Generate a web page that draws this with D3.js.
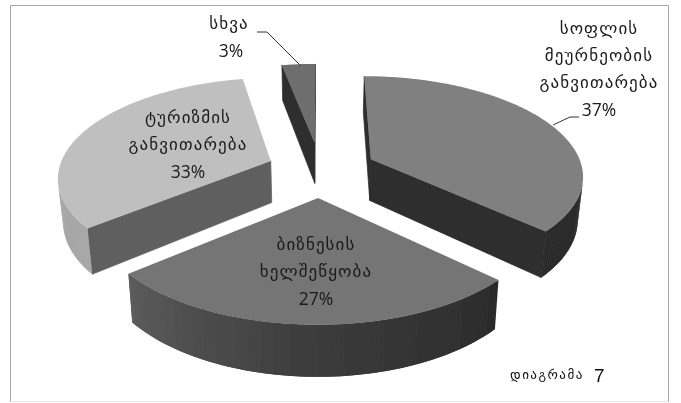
<!DOCTYPE html>
<html><head><meta charset="utf-8">
<script src="https://cdn.jsdelivr.net/npm/d3@7"></script>
<style>html,body{margin:0;padding:0;background:#fff}svg{display:block}</style>
</head><body>
<svg id="c" width="681" height="403"></svg>
<script>
const categories = ["სოფლის მეურნეობის განვითარება","ბიზნესის ხელშეწყობა","ტურიზმის განვითარება","სხვა"];
const values = [37,27,33,3];
const percentLabels = ["37%","27%","33%","3%"];
const labelLines = [["სოფლის","მეურნეობის","განვითარება"],["ბიზნესის","ხელშეწყობა"],["ტურიზმის","განვითარება"],["სხვა"]];
const captionWord = "დიაგრამა";
const captionNumber = "7";

// styling and layout, separate from the data
const explode = [0.265,0.28,0.25,0.28];
const topFill = ["#808080","#747474","#bfbfbf","#6e6e6e"];
const cutFill = ["#2d2d2d","#2d2d2d","#5f5f5f","#2d2d2d"];
const wallStops = [
  {d:[0,60,133],r:["#2d2d2d","#2d2d2d","#2d2d2d"]},
  {d:[133,180,230.4],r:["#2c2c2c","#3c3c3c","#5d5d5d"]},
  {d:[230.4,255,300],r:["#a8a8a8","#a6a6a6","#b4b4b4"]},
  {d:[349,360],r:["#2d2d2d","#2d2d2d"]}
];
const labelAt = [[599,29,27,0],[316,245,27,0],[188,118,27,0],[229,24,27,2]];
const drawOrder = [3,2,0,1];
const cx=320, cy=169.3, persp=0.15, D=42;
const xs = d3.scaleLinear().domain([-1,1]).range([cx-212,cx+212]);
const ys = d3.scaleLinear().domain([-1,1]).range([cy-98.2,cy+98.2]);
function project(X,Y,Z){
  const s=1/(1-persp*Y);
  return [cx+(xs(X)-cx)*s*(1-0.02*Z), cy+(ys(Y)-cy)*s+D*Z*s];
}
const svg=d3.select("#c");
const defs=svg.append("defs");
defs.append("filter").attr("id","soft").append("feGaussianBlur").attr("stdDeviation",0.45);
const root=svg.append("g").attr("filter","url(#soft)");
const line=d3.line();
const rad=d=>d*Math.PI/180;

const arcs=d3.pie().sort(null).value(d=>d)(values);
const face=(g,pts,fill)=>{
  if(d3.polygonArea(pts)<=0) return;
  g.append("path").attr("d",line(pts)+"Z").attr("fill",fill).attr("stroke",fill).attr("stroke-width",0.7);
};
drawOrder.forEach(i=>{
  const a=arcs[i], mid=(a.startAngle+a.endAngle)/2;
  const ox=Math.sin(mid)*explode[i], oy=-Math.cos(mid)*explode[i];
  const rim=(t,z)=>project(ox+Math.sin(t),oy-Math.cos(t),z);
  const apex=z=>project(ox,oy,z);
  const g=root.append("g");
  const wc=d3.scaleLinear().domain(wallStops[i].d).range(wallStops[i].r).clamp(true);
  const n=Math.ceil((a.endAngle-a.startAngle)/rad(1));
  const ts=d3.range(n+1).map(k=>a.startAngle+(a.endAngle-a.startAngle)*k/n);
  face(g,[apex(0),rim(a.startAngle,0),rim(a.startAngle,1),apex(1)],cutFill[i]);
  face(g,[rim(a.endAngle,0),apex(0),apex(1),rim(a.endAngle,1)],cutFill[i]);
  for(let k=n-1;k>=0;k--){
    // each band overlaps its neighbour so no seam shows between bands
    const q=[rim(ts[k],0),rim(ts[k+1],0),rim(ts[k+1],1),rim(ts[k],1)];
    if(d3.polygonArea(q)<=0) continue;
    const next=ts[Math.min(k+2,n)];
    const c=wc(ts[k]*180/Math.PI);
    g.append("path").attr("d",line([rim(ts[k],0),rim(next,0),rim(next,1),rim(ts[k],1)])+"Z").attr("fill",c);
  }
  g.append("path").attr("d",line([apex(0),...ts.map(t=>rim(t,0))])+"Z").attr("fill",topFill[i]);
});

// frame
root.append("path").attr("d","M10.5,402V5.5H668.5V402").attr("fill","none").attr("stroke","#a6a6a6");
root.append("path").attr("d","M10.5,401.5H668.5").attr("fill","none").attr("stroke","#e8e8e8");

// leaders
root.append("path").attr("d",line([[257,32],[267,32],[301,66]])).attr("fill","none").attr("stroke","#333").attr("stroke-width",1);
root.append("path").attr("d",line([[579,117],[570,117],[553,125]])).attr("fill","none").attr("stroke","#333").attr("stroke-width",1);

// labels
const font="'DejaVu Sans',sans-serif";
categories.forEach((c,i)=>{
  const [x,y,dy,px]=labelAt[i];
  const lines=labelLines[i];
  lines.forEach((t,k)=>root.append("text").attr("x",x).attr("y",y+k*dy).attr("text-anchor","middle").attr("dominant-baseline","middle")
    .attr("font-family",font).attr("font-size",17).attr("letter-spacing",1.1).attr("fill","#1a1a1a").text(t));
  root.append("text").attr("x",x+px).attr("y",y+lines.length*dy+1).attr("text-anchor","middle").attr("dominant-baseline","middle")
    .attr("font-family","'Open Sans',sans-serif").attr("font-size",17.5).attr("fill","#1a1a1a").text(percentLabels[i]);
});
root.append("text").attr("x",510).attr("y",379).attr("font-family",font).attr("font-size",13).attr("letter-spacing",1.5).attr("fill","#111").text(captionWord);
root.append("text").attr("x",594).attr("y",382).attr("font-family","'Liberation Sans',sans-serif").attr("font-size",19).attr("fill","#111").text(captionNumber);
</script>
</body></html>
